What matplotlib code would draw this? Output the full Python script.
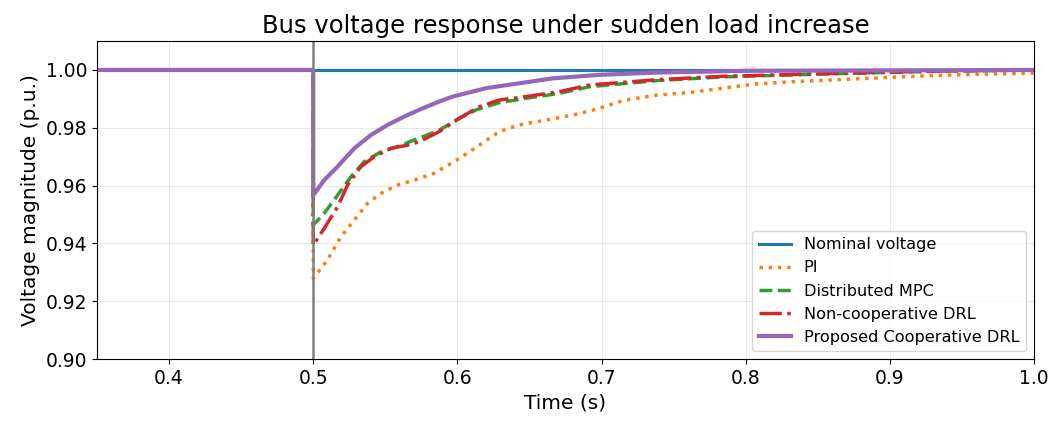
import matplotlib.pyplot as plt
import numpy as np

# time (s) and voltage (p.u.) values
t_nominal = [0.35, 1.0]
v_nominal = [1.0, 1.0]

t_pi = [0.35, 0.5, 0.5, 0.5099, 0.5192, 0.5285, 0.5377, 0.547, 0.5585, 0.5701, 0.584,
        0.6014, 0.6153, 0.6292, 0.643, 0.6616, 0.6801, 0.6963, 0.7148, 0.738, 0.7611,
        0.7842, 0.8074, 0.8352, 0.8583, 0.9208, 0.96, 1.0]
v_pi = [1.0, 1.0, 0.9279, 0.9343, 0.9423, 0.9481, 0.9539, 0.9573, 0.9602, 0.9619, 0.9643,
        0.9694, 0.9740, 0.9787, 0.9810, 0.9827, 0.9844, 0.9864, 0.9894, 0.9913, 0.9922,
        0.9937, 0.9952, 0.9960, 0.9965, 0.9979, 0.9985, 0.9989]

t_mpc = [0.35, 0.5, 0.5, 0.5076, 0.5169, 0.5262, 0.5354, 0.547, 0.5585, 0.5701, 0.5736,
         0.5875, 0.6014, 0.613, 0.6292, 0.6477, 0.6708, 0.6917, 0.738, 0.7842, 0.8537, 0.93, 1.0]
v_mpc = [1.0, 1.0, 0.9464, 0.9504, 0.9567, 0.9631, 0.9683, 0.9717, 0.9735, 0.9758, 0.9764,
         0.9792, 0.9833, 0.9862, 0.9887, 0.9902, 0.9919, 0.9942, 0.9963, 0.9976, 0.9986, 0.9995, 1.0]

t_drl = [0.35, 0.5, 0.5, 0.5076, 0.5169, 0.5238, 0.5331, 0.5424, 0.554, 0.5655, 0.5736,
         0.5875, 0.6014, 0.6153, 0.6292, 0.6477, 0.6708, 0.6917, 0.738, 0.7842, 0.8537, 0.93, 1.0]
v_drl = [1.0, 1.0, 0.9394, 0.9452, 0.9527, 0.9602, 0.9666, 0.9700, 0.9729, 0.9740, 0.9752,
         0.9787, 0.9833, 0.9873, 0.9896, 0.9908, 0.9925, 0.9948, 0.9966, 0.9978, 0.9987, 0.9996, 1.0]

t_coop = [0.35, 0.5, 0.5, 0.5076, 0.5169, 0.5285, 0.540, 0.5516, 0.5632, 0.5748, 0.5860,
          0.5968, 0.620, 0.643, 0.6662, 0.6986, 0.738, 0.8, 1.0]
v_coop = [1.0, 1.0, 0.9567, 0.9619, 0.9666, 0.9729, 0.9775, 0.9810, 0.9839, 0.9865, 0.9888,
          0.9908, 0.9937, 0.9954, 0.9971, 0.9983, 0.9991, 0.9997, 1.0]

fig, ax = plt.subplots(figsize=(10.55, 4.23), dpi=100)
fig.subplots_adjust(left=0.092, right=0.980, top=0.903, bottom=0.151)

ax.plot(t_nominal, v_nominal, color='tab:blue', lw=2.2, label='Nominal voltage')
ax.plot(t_pi, v_pi, color='tab:orange', lw=2.5, ls=':', label='PI')
ax.plot(t_mpc, v_mpc, color='tab:green', lw=2.5, ls='--', label='Distributed MPC')
ax.plot(t_drl, v_drl, color='tab:red', lw=2.5, ls='-.', label='Non-cooperative DRL')
ax.plot(t_coop, v_coop, color='tab:purple', lw=3, label='Proposed Cooperative DRL')
ax.axvline(0.5, color='grey', lw=1.8)

ax.set_xlim(0.35, 1.0)
ax.set_ylim(0.90, 1.01)
ax.set_yticks(np.arange(0.90, 1.001, 0.02))
ax.grid(True, alpha=0.3)
ax.tick_params(labelsize=13.5)
ax.set_xlabel('Time (s)', fontsize=14.5)
ax.set_ylabel('Voltage magnitude (p.u.)', fontsize=14.5)
ax.set_title('Bus voltage response under sudden load increase', fontsize=17.5)
ax.legend(loc='lower right', fontsize=11.6)

plt.savefig('out.png')
